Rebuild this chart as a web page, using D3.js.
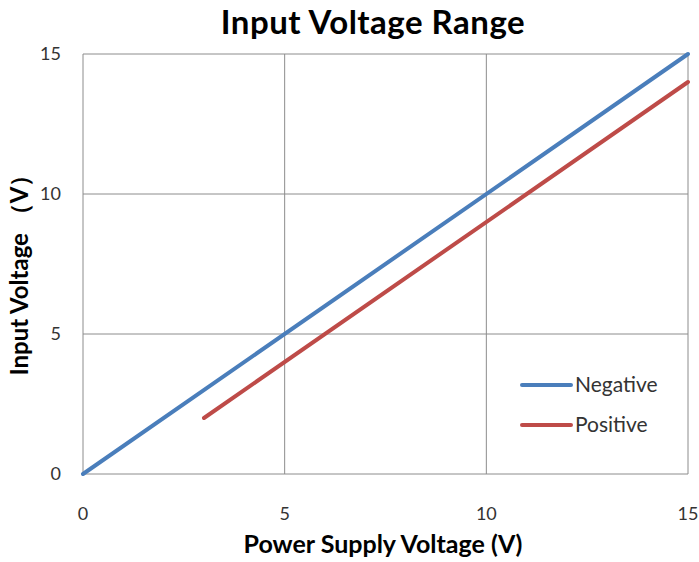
<!DOCTYPE html>
<html>
<head>
<meta charset="utf-8">
<script src="https://cdn.jsdelivr.net/npm/d3@7"></script>
<style>
  body { margin: 0; background: #fff; }
  text { font-family: Lato, "Open Sans", sans-serif; }
</style>
</head>
<body>
<div id="chart"></div>
<script>
// data
var xTicks = [0, 5, 10, 15];
var yTicks = [0, 5, 10, 15];
var negX = [0, 15];
var negY = [0, 15];
var posX = [3, 15];
var posY = [2, 14];
var seriesNames = ["Negative", "Positive"];
var seriesColors = ["#4a7ebb", "#be4b48"];

var W = 699, H = 562;
var margin = {top: 54, right: 11, bottom: 88, left: 83};
var width = W - margin.left - margin.right;
var height = H - margin.top - margin.bottom;

var svg = d3.select("#chart").append("svg")
    .attr("width", W)
    .attr("height", H);

var g = svg.append("g")
    .attr("transform", "translate(" + margin.left + "," + margin.top + ")");

var x = d3.scaleLinear().domain([0, 15]).range([0, width]);
var y = d3.scaleLinear().domain([0, 15]).range([height, 0]);

// grid
g.selectAll(".vgrid").data(xTicks).enter().append("line")
    .attr("x1", d => x(d)).attr("x2", d => x(d))
    .attr("y1", 0).attr("y2", height)
    .attr("stroke", "#8c8c8c").attr("stroke-width", 1);
g.selectAll(".hgrid").data(yTicks).enter().append("line")
    .attr("y1", d => y(d)).attr("y2", d => y(d))
    .attr("x1", 0).attr("x2", width)
    .attr("stroke", "#8c8c8c").attr("stroke-width", 1);

// tick labels
g.selectAll(".xt").data(xTicks).enter().append("text")
    .attr("x", d => x(d)).attr("y", height + 46)
    .attr("text-anchor", "middle")
    .style("font-size", "18px").style("fill", "#333")
    .text(d => d);
g.selectAll(".yt").data(yTicks).enter().append("text")
    .attr("x", -22).attr("y", d => y(d) + 6)
    .attr("text-anchor", "end")
    .style("font-size", "18px").style("fill", "#333")
    .text(d => d);

// lines
var line = d3.line().x(d => x(d[0])).y(d => y(d[1]));
var series = [d3.zip(negX, negY), d3.zip(posX, posY)];
g.selectAll(".series").data(series).enter().append("path")
    .attr("d", line)
    .attr("fill", "none")
    .attr("stroke", (d, i) => seriesColors[i])
    .attr("stroke-width", 4)
    .attr("stroke-linecap", "round");

// legend
var leg = g.selectAll(".leg").data(seriesNames).enter().append("g")
    .attr("transform", (d, i) => "translate(" + (522 - margin.left) + "," + (385 - margin.top + i * 40) + ")");
leg.append("line")
    .attr("x1", 0).attr("x2", 49)
    .attr("stroke", (d, i) => seriesColors[i])
    .attr("stroke-width", 4).attr("stroke-linecap", "round");
leg.append("text")
    .attr("x", 53).attr("y", 7)
    .style("font-size", "21px").style("fill", "#333")
    .text(d => d);

// titles
svg.append("text")
    .attr("x", 373).attr("y", 34)
    .attr("text-anchor", "middle")
    .style("font-size", "33px").style("font-weight", "bold")
    .style("letter-spacing", "0.5px")
    .text("Input Voltage Range");
svg.append("text")
    .attr("x", 383).attr("y", 553)
    .attr("text-anchor", "middle")
    .style("font-size", "25px").style("font-weight", "bold")
    .text("Power Supply Voltage (V)");
svg.append("text")
    .attr("transform", "translate(28,269) rotate(-90)")
    .attr("text-anchor", "middle")
    .style("font-size", "24px").style("font-weight", "bold")
    .text("Input Voltage （V）");
</script>
</body>
</html>
